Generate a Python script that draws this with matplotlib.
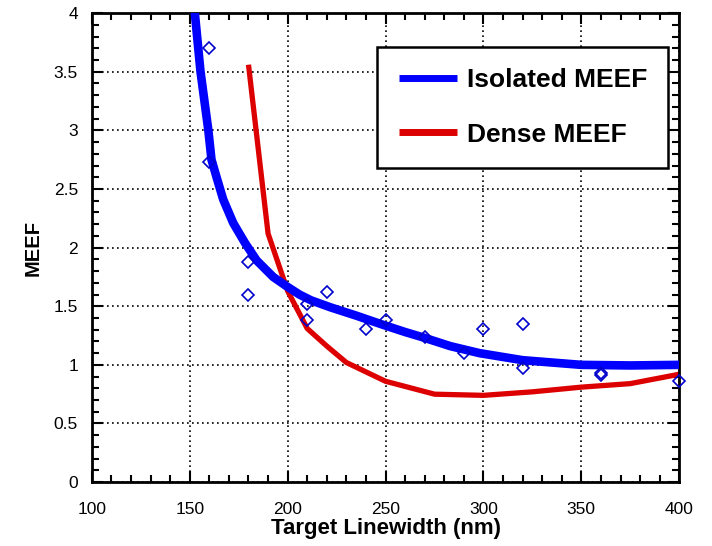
import numpy as np
import matplotlib
matplotlib.use('Agg')
import matplotlib.pyplot as plt
from matplotlib.ticker import MultipleLocator

plt.rcParams['font.family'] = ['Liberation Sans', 'DejaVu Sans']

# measured MEEF points
meas_x = [160, 160, 180, 180, 210, 210, 220, 240, 250, 270, 290, 300, 320, 320, 360, 360, 400]
meas_y = [3.70, 2.73, 1.88, 1.60, 1.52, 1.38, 1.62, 1.31, 1.38, 1.24, 1.10, 1.31, 1.35, 0.97, 0.93, 0.91, 0.86]

# isolated MEEF curve
iso_x = [151.5, 152.6, 155.5, 159.5, 161.1, 163.7, 167.1, 172.2, 178.2, 184.2, 192.6, 199.5,
         206, 212, 222, 235, 249, 260, 270, 283, 298, 320, 350, 375, 400]
iso_y = [4.3, 4.0, 3.5, 3.0, 2.75, 2.60, 2.41, 2.21, 2.04, 1.89, 1.75, 1.67,
         1.60, 1.55, 1.49, 1.42, 1.34, 1.28, 1.23, 1.16, 1.10, 1.04, 1.00, 0.995, 1.00]

# dense MEEF curve
dense_x = [180, 190, 200, 210, 220, 230, 250, 275, 300, 325, 350, 375, 400]
dense_y = [3.56, 2.12, 1.63, 1.31, 1.16, 1.02, 0.86, 0.75, 0.74, 0.77, 0.81, 0.84, 0.92]

fig = plt.figure(figsize=(7.12, 5.46), dpi=100)
ax = fig.add_axes([0.129, 0.117, 0.825, 0.859])

ax.plot(iso_x, iso_y, color='#0000ff', lw=6.2, solid_capstyle='butt', solid_joinstyle='round',
        label='Isolated MEEF', zorder=3)
ax.plot(dense_x, dense_y, color='#dd0000', lw=3.8, solid_capstyle='butt', label='Dense MEEF', zorder=2)
ax.plot(meas_x, meas_y, ls='none', marker='D', ms=6, mfc='none', mec='#0000cc', mew=1.2, zorder=4,
        clip_on=False)

ax.set_xlim(100, 400)
ax.set_ylim(0, 4)
ax.xaxis.set_major_locator(MultipleLocator(50))
ax.xaxis.set_minor_locator(MultipleLocator(10))
ax.yaxis.set_major_locator(MultipleLocator(0.5))
ax.yaxis.set_minor_locator(MultipleLocator(0.1))
ax.set_yticks([0, 0.5, 1, 1.5, 2, 2.5, 3, 3.5, 4])
ax.set_yticklabels(['0', '0.5', '1', '1.5', '2', '2.5', '3', '3.5', '4'])

ax.tick_params(which='both', direction='in', top=True, right=True, width=1.5, labelsize=12.5)
ax.tick_params(axis='x', pad=14)
ax.tick_params(axis='y', pad=10)
ax.tick_params(which='major', length=8)
ax.tick_params(which='minor', length=5)
ax.grid(True, which='major', color='black', ls=(0, (1, 2)), lw=1.2)
for s in ax.spines.values():
    s.set_linewidth(2)

ax.set_xlabel('Target Linewidth (nm)', fontsize=16, fontweight='bold', labelpad=1)
ax.set_ylabel('MEEF', fontsize=14.5, fontweight='bold', labelpad=8)

leg = ax.legend(loc='upper right', bbox_to_anchor=(0.981, 0.9275), borderaxespad=0,
                prop={'weight': 'bold', 'size': 19}, handlelength=2.2, handletextpad=0.38,
                labelspacing=1.15, borderpad=0.8, fancybox=False, framealpha=1, edgecolor='black')
leg.get_frame().set_linewidth(1.8)
for h in leg.get_lines():
    h.set_linewidth(5)

fig.savefig('out.png', dpi=100)
